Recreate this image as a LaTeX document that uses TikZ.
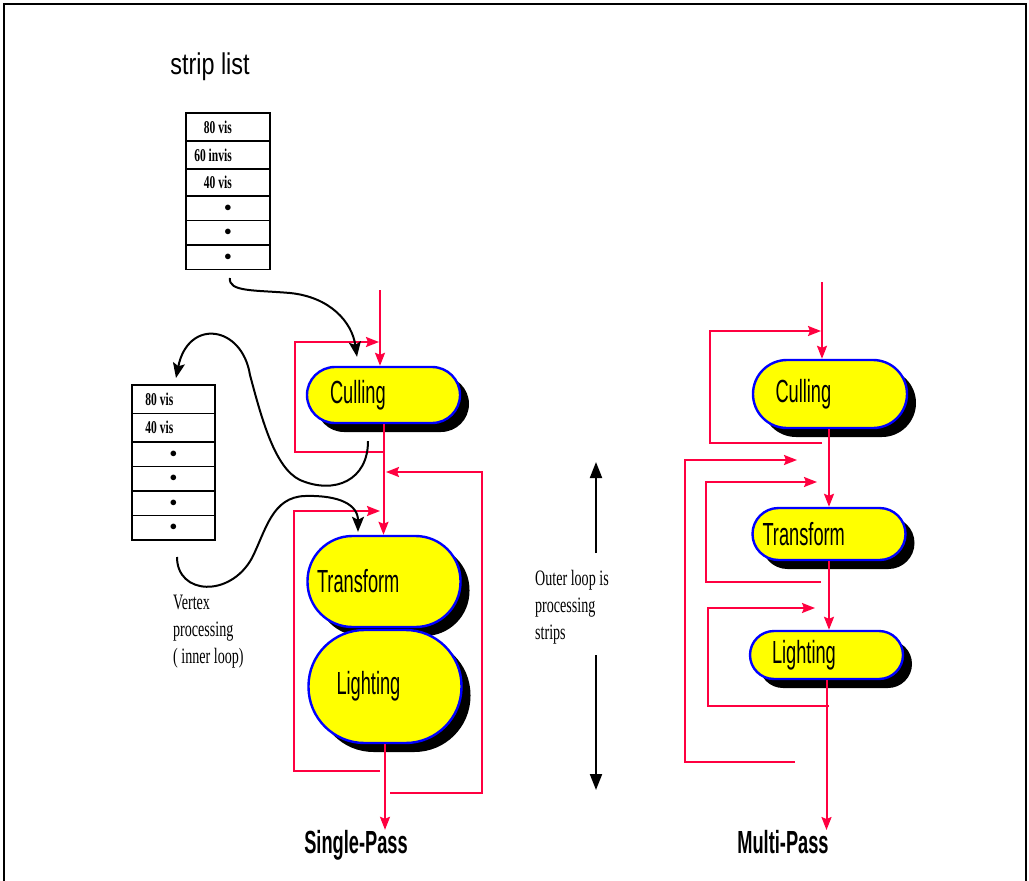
\documentclass[tikz,border=0pt]{standalone}
\usepackage{fontspec}
\setmainfont{Liberation Serif}
\newfontfamily\stagefont[FakeStretch=0.57]{Liberation Sans}
\newfontfamily\titlefont[FakeStretch=0.78]{Liberation Sans}
\newfontfamily\notefont[FakeStretch=0.64]{Liberation Serif}
\usetikzlibrary{positioning,arrows.meta,shadows}
\definecolor{pipe}{RGB}{255,0,64}
\definecolor{stagefill}{RGB}{255,255,0}
\definecolor{stageline}{RGB}{0,0,255}
\newcommand{\entry}[2]{\makebox[83.5pt][r]{#2\hspace{#1}}}
\newcommand{\inset}[2]{\makebox[153pt][l]{\hspace{#1}#2}}
\newcommand{\rowdot}{{\fontsize{14}{14}\selectfont$\bullet$}}

\begin{document}
\begin{tikzpicture}[x=1pt, y=-1pt,
		cell/.style={draw, line width=1.8pt, minimum width=83.5pt, minimum height=28pt,
			inner sep=0pt, outer sep=0pt,
			font={\notefont\bfseries\fontsize{18}{18}\selectfont}},
		dotcell/.style={cell, minimum height=24.5pt},
		stage/.style={draw=stageline, fill=stagefill, line width=2.4pt, inner sep=0pt,
			minimum width=153pt, font={\stagefont\fontsize{32}{32}\selectfont},
			drop shadow={fill=black, opacity=1, shadow xshift=9pt, shadow yshift=-9pt}},
		note/.style={font={\notefont\fontsize{22}{27}\selectfont}, align=left, inner sep=0pt},
		pass/.style={font={\stagefont\bfseries\fontsize{32}{32}\selectfont}, inner sep=0pt},
		flow/.style={draw=pipe, line width=2pt, -{Stealth[length=13pt, width=10pt, inset=2pt]}},
		link/.style={draw=black, line width=2pt, -{Stealth[length=15pt, width=12pt, inset=3pt]}},
		span/.style={draw=black, line width=2pt, -{Triangle[length=16pt, width=12pt]}}]
	\useasboundingbox (0,0) rectangle (1029,881);
	\fill[white] (0,0) rectangle (1029,881);
	\draw[line width=2pt] (4,881) -- (4,4) -- (1026,4) -- (1026,881);

	\node[font={\titlefont\fontsize{30}{30}\selectfont}] (title) at (210,67) {strip list};
	\node[cell, anchor=north] (sa1) at (228,113) {\entry{38pt}{80 vis}};
	\node[cell, below=0pt of sa1] (sa2) {\entry{38pt}{60 invis}};
	\node[cell, minimum height=27pt, below=0pt of sa2] (sa3) {\entry{38pt}{40 vis}};
	\node[dotcell, below=0pt of sa3] (sa4) {\rowdot};
	\node[dotcell, below=0pt of sa4] (sa5) {\rowdot};
	\node[dotcell, below=0pt of sa5] (sa6) {\rowdot};

	\node[cell, minimum height=28.5pt, anchor=north] (sb1) at (173.5,385) {\entry{42pt}{80 vis}};
	\node[cell, minimum height=28.5pt, below=0pt of sb1] (sb2) {\entry{42pt}{40 vis}};
	\node[dotcell, below=0pt of sb2] (sb3) {\rowdot};
	\node[dotcell, below=0pt of sb3] (sb4) {\rowdot};
	\node[dotcell, below=0pt of sb4] (sb5) {\rowdot};
	\node[dotcell, below=0pt of sb5] (sb6) {\rowdot};

	\node[stage, minimum height=56pt, rounded corners=28pt] (cullA) at (383.5,395) {\inset{23pt}{Culling}};
	\node[stage, minimum height=91pt, rounded corners=45pt] (transA) at (384,581.5) {\inset{9.5pt}{Transform}};
	\node[stage, minimum height=113pt, rounded corners=56pt] (lightA) at (385,686.5) {\inset{28pt}{Lighting}};

	\node[stage, minimum width=154pt, minimum height=68pt, rounded corners=34pt] (cullB) at (830,394) {\inset{22pt}{Culling}};
	\node[stage, minimum height=52pt, rounded corners=26pt] (transB) at (829,534) {\inset{10pt}{Transform}};
	\node[stage, minimum height=48pt, rounded corners=24pt] (lightB) at (826.5,655) {\inset{22pt}{Lighting}};

	\node[pass] (spass) at (356,845) {Single-Pass};
	\node[pass] (mpass) at (783,842) {Multi-Pass};
	\node[note, anchor=north west] (outer) at (535,570) {Outer loop is\\processing\\strips};
	\node[note, anchor=north west] (vertex) at (173,595) {Vertex\\processing\\( inner loop)};

	\coordinate (inA) at (380,290);
	\coordinate (cjA) at (383,452);
	\coordinate (ccA) at (295,342);
	\coordinate (ctA) at (379,342);
	\coordinate (ofA) at (390,793);
	\coordinate (ocA) at (482,472);
	\coordinate (otA) at (386,472);
	\coordinate (ifA) at (380,771);
	\coordinate (icA) at (294,511);
	\coordinate (itA) at (380,511);
	\draw[flow] (inA) -- (inA |- cullA.north);
	\draw[flow] (cjA) -| (ccA) -- (ctA);
	\draw[flow] (cullA.south) -- (cullA.south |- transA.north);
	\draw[flow] (ofA) -| (ocA) -- (otA);
	\draw[flow] (ifA) -| (icA) -- (itA);
	\draw[flow] (lightA.south) -- (lightA.south |- spass.north);

	\coordinate (inB) at (822,282);
	\coordinate (cjB) at (822,443);
	\coordinate (ccB) at (710,331);
	\coordinate (ctB) at (821,331);
	\coordinate (ofB) at (795,762);
	\coordinate (ocB) at (685,460);
	\coordinate (otB) at (797,460);
	\coordinate (tjB) at (821,582);
	\coordinate (tcB) at (706,482);
	\coordinate (ttB) at (817,482);
	\coordinate (ljB) at (829,706);
	\coordinate (lcB) at (708,608);
	\coordinate (ltB) at (815,608);
	\draw[flow] (inB) -- (inB |- cullB.north);
	\draw[flow] (cjB) -| (ccB) -- (ctB);
	\draw[flow] (transB.north |- cullB.south) -- (transB.north);
	\draw[flow] (ofB) -| (ocB) -- (otB);
	\draw[flow] (tjB) -| (tcB) -- (ttB);
	\draw[flow] (transB.south) -- (transB.south |- lightB.north);
	\draw[flow] (ljB) -| (lcB) -- (ltB);
	\draw[flow] (lightB.south) -- (lightB.south |- mpass.north);

	\coordinate (upS) at (596,553);
	\coordinate (upE) at (596,462);
	\coordinate (dnS) at (596,655);
	\coordinate (dnE) at (596,790);
	\draw[span] (upS) -- (upE);
	\draw[span] (dnS) -- (dnE);

	\coordinate (fromA) at (230,278);
	\coordinate (fromB) at (177,557);
	\draw[link] (fromA) .. controls (228,292) and (255,290) .. (290,293)
		.. controls (330,297) and (352,322) .. ([xshift=-26.5pt, yshift=9pt]cullA.north);
	\draw[link] ([xshift=-15.5pt, yshift=-17pt]cullA.south) .. controls (368,480) and (335,495) .. (300,480)
		.. controls (275,468) and (262,420) .. (250,375)
		.. controls (242,325) and (188,318) .. ([xshift=2.5pt, yshift=7pt]sb1.north);
	\draw[link] (fromB) .. controls (177,595) and (230,598) .. (252,558)
		.. controls (266,530) and (272,497) .. (305,496)
		.. controls (340,495) and (358,505) .. ([xshift=-26pt, yshift=3pt]transA.north);
\end{tikzpicture}
\end{document}
